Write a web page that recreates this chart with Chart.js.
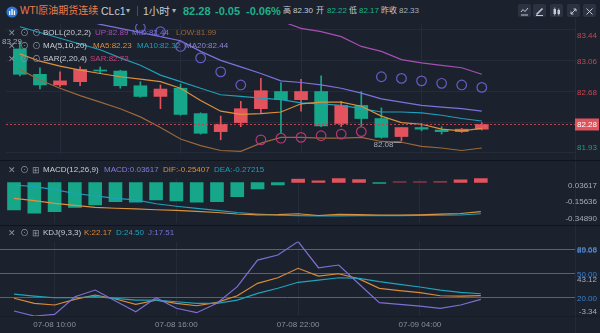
<!DOCTYPE html>
<html>
<head>
<meta charset="utf-8">
<script src="https://cdn.jsdelivr.net/npm/chart.js@4.4.1/dist/chart.umd.min.js"></script>
<style>
  html, body { margin: 0; padding: 0; }
  body { width: 600px; height: 333px; background: #1b212d; position: relative; overflow: hidden;
         font-family: "Liberation Sans", "Noto Sans CJK SC", sans-serif; }
  canvas { position: absolute; left: 0; }
  .tx { position: absolute; white-space: nowrap; font-size: 8px; line-height: 12px; height: 12px; }
  .sep { position: absolute; left: 0; width: 600px; height: 1px; background: #10141c; }
  .btn { position: absolute; top: 4px; width: 13px; height: 13px; background: #2b3342; border-radius: 2px; }
</style>
</head>
<body>
<canvas id="main" width="600" height="142" style="top:18px"></canvas>
<canvas id="macd" width="600" height="65" style="top:160px"></canvas>
<canvas id="kdj" width="600" height="108" style="top:225px"></canvas>
<div class="sep" style="top:160px"></div>
<div class="sep" style="top:225px"></div>
<div class="sep" style="top:316px;background:#161b25"></div>

<script>
// ---- data (1h candles, 07-08 08:00 .. 07-09 07:00) ----
const times = ['07-08 08:00','07-08 09:00','07-08 10:00','07-08 11:00','07-08 12:00','07-08 13:00',
  '07-08 14:00','07-08 15:00','07-08 16:00','07-08 17:00','07-08 18:00','07-08 19:00','07-08 20:00',
  '07-08 21:00','07-08 22:00','07-08 23:00','07-09 00:00','07-09 01:00','07-09 02:00','07-09 03:00',
  '07-09 04:00','07-09 05:00','07-09 06:00','07-09 07:00'];

const open  = [83.20, 82.89, 82.76, 82.80, 82.94, 82.93, 82.75, 82.62, 82.72, 82.41, 82.19, 82.30,
               82.47, 82.68, 82.58, 82.68, 82.29, 82.51, 82.35, 82.13, 82.24, 82.21, 82.19, 82.22];
const close = [82.89, 82.76, 82.81, 82.95, 82.93, 82.75, 82.62, 82.71, 82.40, 82.17, 82.28, 82.47,
               82.69, 82.58, 82.68, 82.26, 82.51, 82.35, 82.12, 82.24, 82.22, 82.19, 82.22, 82.28];
const high  = [83.29, 82.97, 82.92, 82.98, 82.98, 82.94, 82.80, 82.76, 82.77, 82.42, 82.38, 82.56,
               82.84, 82.79, 82.83, 82.87, 82.56, 82.68, 82.48, 82.24, 82.29, 82.25, 82.23, 82.30];
const low   = [82.87, 82.71, 82.74, 82.75, 82.90, 82.72, 82.61, 82.47, 82.39, 82.16, 82.09, 82.25,
               82.41, 82.17, 82.44, 82.25, 82.25, 82.25, 82.11, 82.08, 82.20, 82.16, 82.18, 82.21];

const ma5  = [83.14, 83.05, 82.99, 82.94, 82.90, 82.86, 82.83, 82.80, 82.72, 82.57, 82.44, 82.40,
              82.41, 82.43, 82.53, 82.55, 82.55, 82.50, 82.38, 82.30, 82.28, 82.22, 82.20, 82.23];
const ma10 = [83.47, 83.40, 83.33, 83.26, 83.19, 83.09, 83.00, 82.88, 82.80, 82.72, 82.64, 82.62,
              82.60, 82.58, 82.54, 82.53, 82.51, 82.47, 82.43, 82.43, 82.42, 82.39, 82.35, 82.32];
const bollMid = [null, null, null, 83.56, 83.50, 83.45, 83.40, 83.35, 83.30, 83.17, 83.06, 82.98,
              82.90, 82.81, 82.79, 82.76, 82.72, 82.66, 82.59, 82.55, 82.51, 82.49, 82.47, 82.44];
const bollUp  = [null, null, null, null, null, null, null, null, null, null, null, null,
              null, 83.54, 83.45, 83.41, 83.35, 83.23, 83.17, 83.07, 83.03, 83.00, 82.97, 82.89];
const bollLow = [82.95, 82.82, 82.72, 82.63, 82.55, 82.47, 82.37, 82.24, 82.10, 82.02, 81.96, 81.95,
              82.05, 82.12, 82.12, 82.11, 82.11, 82.12, 82.07, 82.06, 82.01, 81.99, 81.96, 81.99];
const sar = [null, null, null, null, null, null, 83.46, 83.41, 83.23, 83.09, 82.92, 82.76,
             82.09, 82.11, 82.12, 82.14, 82.16, 82.19, 82.86, 82.84, 82.81, 82.78, 82.76, 82.73];
const priceTicks = [83.44, 83.06, 82.68, 82.30, 81.93];

const macdHist = [-0.239, -0.268, -0.254, -0.216, -0.196, -0.167, -0.172, -0.152, -0.161, -0.172, -0.167, -0.123,
                  -0.057, -0.022, 0.030, 0.015, 0.035, 0.025, -0.008, 0.006, 0.006, 0.010, 0.022, 0.03617];
const dif = [-0.138, -0.158, -0.181, -0.200, -0.216, -0.224, -0.230, -0.237, -0.243, -0.252, -0.261, -0.274,
             -0.281, -0.280, -0.272, -0.287, -0.278, -0.280, -0.283, -0.283, -0.281, -0.276, -0.270, -0.25407];
const dea = [-0.022, -0.037, -0.063, -0.096, -0.117, -0.139, -0.152, -0.185, -0.207, -0.226, -0.242, -0.261,
             -0.274, -0.284, -0.289, -0.291, -0.290, -0.288, -0.288, -0.288, -0.286, -0.284, -0.283, -0.27215];
const macdTicks = [0.03617, -0.15636, -0.34890];

const kLine = [18.8, 12.5, 10.4, 17.5, 22.9, 17.9, 11.3, 16.6, 12.5, 9.5, 13.8, 22.0,
               37.5, 44.5, 56.3, 46.6, 49.5, 43.0, 31.3, 28.3, 25.8, 22.0, 21.6, 22.17];
const dLine = [24.1, 21.6, 19.5, 19.5, 20.8, 18.8, 16.6, 16.6, 14.5, 12.5, 12.5, 16.6,
               25.0, 31.3, 38.8, 41.6, 44.5, 43.8, 39.6, 36.2, 32.9, 29.1, 26.2, 24.50];
const jLine = [2.9, -3.34, -1.3, 20.8, 29.1, 15.4, 2.0, 19.5, 6.3, 0.8, 12.5, 33.3,
               66.6, 72.9, 89.68, 57.0, 60.4, 36.6, 13.3, 11.3, 9.1, 6.3, 10.4, 17.51];
const kdjLevels = [20, 50, 80];
const kdjTicks = [89.68, 43.12, -3.34];

const timeTickIdx = [2, 8, 14, 20];
const prevClose = 82.33, dayOpen = 82.22, dayHigh = 82.30, dayLow = 82.17;

// ---- colours ----
const RED = '#e2535d', GREEN = '#16a78a', RED_DIM = '#8c3543';
const C_UP = '#a74fb4', C_MID = '#7d72dc', C_LOW = '#9b6838';
const C_MA5 = '#dc913c', C_MA10 = '#1f9fba';
const C_SAR_HI = '#6a5cc6', C_SAR_LO = '#b23a72';
const C_K = '#d98b3a', C_D = '#20a3bb', C_J = '#7e6fd2';
const GRID = '#252c39', LABEL = '#a6acb6', BLUE = '#2d6bb4';
const FONT = '8px "Liberation Sans"';

const X_MIN = -0.69, X_MAX = 27.64;
const pts = arr => arr.map((v, i) => ({ x: i, y: v }));
const last = arr => arr[arr.length - 1];

function xScale(showLabels) {
  return {
    type: 'linear', min: X_MIN, max: X_MAX, offset: false,
    grid: { color: GRID, drawTicks: false, offset: false },
    border: { display: false },
    afterBuildTicks: s => { s.ticks = timeTickIdx.map(v => ({ value: v })); },
    ticks: showLabels
      ? { autoSkip: false, maxRotation: 0, padding: 4, color: '#8b919c',
          font: { size: 8, family: '"Liberation Sans"' }, callback: v => times[v] }
      : { display: false },
    afterFit: s => { s.height = showLabels ? 17 : 0; }
  };
}

function yScale(min, max, ticks, gridColor) {
  return {
    position: 'right', min: min, max: max,
    grid: { color: gridColor, drawTicks: false },
    border: { display: false },
    ticks: { display: false },
    afterBuildTicks: s => { s.ticks = ticks.map(v => ({ value: v })); },
    afterFit: s => { s.width = 25; }
  };
}

function lineDs(arr, color, order) {
  return { type: 'line', data: pts(arr), borderColor: color, borderWidth: 1.2, pointRadius: 0,
           tension: 0, order: order || 2 };
}

const baseOpts = {
  responsive: false, animation: false, devicePixelRatio: 1,
  layout: { padding: 0 },
  plugins: { legend: { display: false }, tooltip: { enabled: false } },
  events: []
};

// axis label helper, labels clamped inside the panel
function drawLabels(c, items, topIn, botIn) {
  const { ctx, chartArea: a, scales: { y } } = c;
  ctx.font = FONT; ctx.textAlign = 'right'; ctx.textBaseline = 'middle';
  items.forEach(it => {
    let ty = y.getPixelForValue(it.v) + 1.2;
    ty = Math.min(Math.max(ty, a.top + topIn), a.bottom - botIn);
    ctx.fillStyle = it.color;
    ctx.fillText(it.text, 597, ty);
  });
}

function vSep(c) {
  const { ctx, chartArea: a } = c;
  ctx.strokeStyle = GRID; ctx.lineWidth = 1;
  ctx.beginPath(); ctx.moveTo(a.right + 0.5, 0); ctx.lineTo(a.right + 0.5, c.height); ctx.stroke();
}

// ---- main price panel ----
const candleColor = close.map((c, i) => c >= open[i] ? RED : GREEN);
const sarColor = sar.map((s, i) => (s !== null && s > close[i]) ? C_SAR_HI : C_SAR_LO);

new Chart(document.getElementById('main'), {
  type: 'bar',
  data: { datasets: [
    { type: 'line', data: pts(sar), showLine: false, pointRadius: 4.8, pointBorderWidth: 1.2,
      pointBorderColor: sarColor, pointBackgroundColor: 'rgba(0,0,0,0)', order: 1 },
    lineDs(ma5, C_MA5), lineDs(ma10, C_MA10),
    lineDs(bollUp, C_UP), lineDs(bollMid, C_MID), lineDs(bollLow, C_LOW),
    { type: 'bar', data: close.map((c, i) => ({ x: i, y: [low[i], high[i]] })),
      backgroundColor: candleColor, barThickness: 1, grouped: false, order: 4 },
    { type: 'bar', data: close.map((c, i) => ({ x: i, y: [open[i], c] })),
      backgroundColor: candleColor, barThickness: 13, minBarLength: 1, grouped: false, order: 3 }
  ] },
  options: Object.assign({}, baseOpts, {
    scales: { x: xScale(false), y: yScale(81.917, 83.504, priceTicks, GRID) }
  }),
  plugins: [{
    id: 'mainDeco',
    afterDraw(c) {
      const { ctx, chartArea: a, scales: { x, y } } = c;
      ctx.save();
      vSep(c);
      const lc = last(close);
      const py = Math.round(y.getPixelForValue(lc)) + 0.5;
      ctx.strokeStyle = '#b9434e'; ctx.lineWidth = 1; ctx.setLineDash([2, 2]);
      ctx.beginPath(); ctx.moveTo(a.left, py); ctx.lineTo(a.right, py); ctx.stroke();
      ctx.setLineDash([]);

      drawLabels(c, priceTicks.map(v => ({ v: v, text: v.toFixed(2),
        color: v > prevClose ? '#c8464f' : '#1f9e80' })), 12, 6);

      ctx.fillStyle = '#e0525c';
      ctx.fillRect(575, py - 6, 24, 12);
      ctx.fillStyle = '#ffffff'; ctx.textAlign = 'right';
      ctx.fillText(lc.toFixed(2), 597, py + 0.5);

      // max / min markers
      const iMax = high.indexOf(Math.max(...high));
      const iMin = low.indexOf(Math.min(...low));
      ctx.fillStyle = LABEL; ctx.textAlign = 'left'; ctx.textBaseline = 'middle';
      ctx.fillText(high[iMax].toFixed(2), 2, y.getPixelForValue(high[iMax]));
      const mx = x.getPixelForValue(iMin), my = y.getPixelForValue(low[iMin]) + 1;
      ctx.strokeStyle = LABEL;
      ctx.beginPath(); ctx.moveTo(mx - 8, my + 0.5); ctx.lineTo(mx, my + 0.5); ctx.stroke();
      ctx.textAlign = 'right';
      ctx.fillText(low[iMin].toFixed(2), mx - 8, my + 3);
      ctx.restore();
    }
  }]
});

// ---- MACD panel ----
const histColor = macdHist.map(v => v >= 0 ? (v < 0.012 ? RED_DIM : RED) : GREEN);
new Chart(document.getElementById('macd'), {
  type: 'bar',
  data: { datasets: [
    lineDs(dif, C_MA5, 1), lineDs(dea, C_MA10, 1),
    { type: 'bar', data: pts(macdHist), backgroundColor: histColor, barThickness: 13,
      minBarLength: 1, grouped: false, order: 3 }
  ] },
  options: Object.assign({}, baseOpts, {
    layout: { padding: { top: 18.3, bottom: 2.4 } },
    scales: { x: xScale(false), y: yScale(-0.3489, 0.03617, [], GRID) }
  }),
  plugins: [{
    id: 'macdDeco',
    afterDraw(c) {
      c.ctx.save();
      vSep(c);
      drawLabels(c, macdTicks.map(v => ({ v: v, text: v.toFixed(5), color: LABEL })), 7.7, 4.3);
      c.ctx.restore();
    }
  }]
});

// ---- KDJ panel ----
new Chart(document.getElementById('kdj'), {
  type: 'line',
  data: { datasets: [ lineDs(jLine, C_J), lineDs(dLine, C_D), lineDs(kLine, C_K) ] },
  options: Object.assign({}, baseOpts, {
    layout: { padding: { top: 16.6 } },
    scales: { x: xScale(true), y: yScale(-3.34, 89.68, kdjLevels, BLUE) }
  }),
  plugins: [{
    id: 'kdjDeco',
    afterDraw(c) {
      c.ctx.save();
      vSep(c);
      const items = kdjLevels.map(v => ({ v: v, text: v.toFixed(2), color: '#3b82d2' }))
        .concat(kdjTicks.map(v => ({ v: v, text: v.toFixed(2), color: v === kdjTicks[0] ? '#6a8fc0' : LABEL })));
      drawLabels(c, items, 7.7, 4.3);
      c.ctx.restore();
    }
  }]
});

// ---- header + legends (html text) ----
function put(text, left, cy, color, size, extra) {
  const d = document.createElement('div');
  d.className = 'tx';
  d.textContent = text;
  d.style.left = left + 'px';
  d.style.top = (cy - 6) + 'px';
  d.style.color = color;
  d.style.fontSize = (size || 8) + 'px';
  if (extra) Object.assign(d.style, extra);
  document.body.appendChild(d);
  return d;
}

const logo = document.createElement('div');
logo.style.cssText = 'position:absolute;left:6px;top:4px;width:12px;height:12px';
logo.innerHTML = '<svg width="12" height="12"><circle cx="6" cy="6" r="5.6" fill="#2f78d6"/>' +
  '<rect x="3" y="5" width="1.3" height="4" fill="#fff"/><rect x="5.4" y="3" width="1.3" height="6" fill="#fff"/>' +
  '<rect x="7.8" y="4.5" width="1.3" height="4.5" fill="#fff"/></svg>';
document.body.appendChild(logo);

const G = '#20b08c', W = '#c9cdd5';
put('WTI原油期货连续', 20, 10.5, '#ee7a4a', 10);
put('CLc1', 101, 10.5, W, 10.5);
put('▾', 126, 10.5, '#aab0ba', 8);
put('', 137, 10.5, W, 8, { width: '1px', height: '10px', top: '6px', background: '#464d5b' });
put('1小时', 143, 10.5, W, 10.5);
put('▾', 172, 10.5, '#aab0ba', 8);
const lc = last(close);
put(lc.toFixed(2), 183, 10.5, G, 11, { fontWeight: 'bold' });
put((lc - prevClose).toFixed(2), 215, 10.5, G, 11, { fontWeight: 'bold' });
put(((lc - prevClose) / prevClose * 100).toFixed(2) + '%', 246, 10.5, G, 11, { fontWeight: 'bold' });
put('高', 283, 11, W, 8);
put(dayHigh.toFixed(2), 293, 11, W, 8);
put('开', 316, 11, W, 8);
put(dayOpen.toFixed(2), 327, 11, G, 8);
put('低', 349, 11, W, 8);
put(dayLow.toFixed(2), 359, 11, G, 8);
put('昨收', 381, 11, W, 8);
put(prevClose.toFixed(2), 399, 11, '#a9aeb8', 8);

const icons = [
  '<polyline points="3,7 5,4.5 7,6.5 10,3" stroke="#c4c9d2" fill="none"/><line x1="3" y1="10" x2="10" y2="10" stroke="#c4c9d2"/>',
  '<line x1="3.5" y1="9.5" x2="9.5" y2="3.5" stroke="#c4c9d2" stroke-width="1.6"/><line x1="3" y1="10.5" x2="10" y2="10.5" stroke="#c4c9d2"/>',
  '<rect x="3.5" y="4" width="2.5" height="5" fill="#c4c9d2"/><rect x="7.5" y="5" width="2.5" height="4" fill="#c4c9d2"/><line x1="4.75" y1="2.5" x2="4.75" y2="10.5" stroke="#c4c9d2" stroke-width="0.8"/><line x1="8.75" y1="3.5" x2="8.75" y2="10.5" stroke="#c4c9d2" stroke-width="0.8"/>',
  '<line x1="4" y1="9" x2="9" y2="4" stroke="#c4c9d2"/><polyline points="6.5,4 9,4 9,6.5" stroke="#c4c9d2" fill="none"/><polyline points="4,6.5 4,9 6.5,9" stroke="#c4c9d2" fill="none"/>',
  '<line x1="3.5" y1="3.5" x2="9.5" y2="9.5" stroke="#c4c9d2"/><line x1="9.5" y1="3.5" x2="3.5" y2="9.5" stroke="#c4c9d2"/>'
];
[518, 533, 550, 567, 583].forEach((l, i) => {
  const b = document.createElement('div');
  b.className = 'btn'; b.style.left = l + 'px';
  b.innerHTML = '<svg width="13" height="13">' + icons[i] + '</svg>';
  document.body.appendChild(b);
});

const IC = '#8d939e';
function legendRow(cy, third, items) {
  put('✕', 8, cy, IC, 9);
  put('⊙', 20, cy, IC, 9);
  put(third, 32, cy, IC, 9);
  items.forEach(it => put(it[0], it[1], cy, it[2], 8));
}
legendRow(33, '⊙', [['BOLL(20,2,2)', 43, W], ['UP:' + last(bollUp).toFixed(2), 95, C_UP],
  ['MID:' + last(bollMid).toFixed(2), 132, C_MID], ['LOW:' + last(bollLow).toFixed(2), 176, C_LOW]]);
legendRow(46, '⊙', [['MA(5,10,20)', 43, W], ['MA5:' + last(ma5).toFixed(2), 93, C_MA5],
  ['MA10:' + last(ma10).toFixed(2), 137, C_MA10], ['MA20:' + last(bollMid).toFixed(2), 185, '#8e86d0']]);
legendRow(59, '⊙', [['SAR(2,20,4)', 43, W], ['SAR:' + last(sar).toFixed(2), 90, '#c8407a']]);
legendRow(170, '⊞', [['MACD(12,26,9)', 43, W], ['MACD:' + last(macdHist).toFixed(5), 104, '#8a7bd9'],
  ['DIF:' + last(dif).toFixed(5), 163, C_MA5], ['DEA:' + last(dea).toFixed(5), 214, C_MA10]]);
legendRow(233, '⊞', [['KDJ(9,3,3)', 43, W], ['K:' + last(kLine).toFixed(2), 84, C_K],
  ['D:' + last(dLine).toFixed(2), 116, C_D], ['J:' + last(jLine).toFixed(2), 148, C_J]]);
</script>
</body>
</html>
